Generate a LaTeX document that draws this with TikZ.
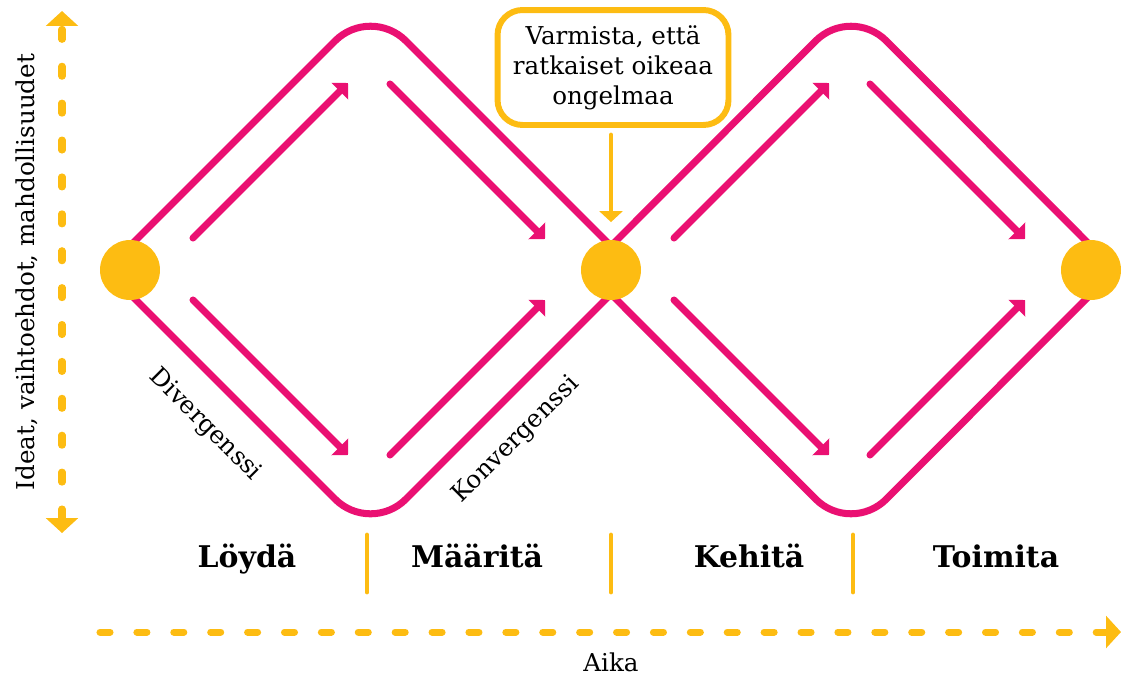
\documentclass[tikz,border=0pt]{standalone}
\usepackage{fontspec}
\setmainfont{DejaVu Serif}
\usetikzlibrary{calc, arrows.meta}
\definecolor{dpink}{RGB}{234,16,114}
\definecolor{dyellow}{RGB}{253,188,18}
\tikzset{
  flow/.style={draw=dpink, line width=4pt, line cap=round},
  flowarrow/.style={flow, arrows={-Triangle[length=6.6pt, width=13.2pt]}},
  outline/.style={flow, line join=round, rounded corners=1cm},
  dot/.style={circle, fill=dyellow, minimum size=1.2cm, inner sep=0pt},
  axis/.style={draw=dyellow, line width=4pt, line cap=round,
    dash pattern=on 5.7pt off 15.3pt},
  axistip/.tip={Triangle[length=8.5pt, width=18pt]},
  notebox/.style={draw=dyellow, line width=3.4pt, rounded corners=0.5cm,
    minimum width=4.62cm, minimum height=2.3cm, align=center,
    font=\fontsize{14}{17}\selectfont},
  phase/.style={anchor=base, inner sep=0pt, font=\fontsize{17}{20}\bfseries\selectfont},
  label text/.style={inner sep=0pt, font=\fontsize{14}{17}\selectfont}
}
\begin{document}
\begin{tikzpicture}[x=0.02cm, y=-0.02cm]
        \useasboundingbox (0,0) rectangle (1125,674);
        \coordinate (p1) at (130, 270);
        \coordinate (p2) at (611, 270);
        \coordinate (p3) at (1091, 270);
        % the two diamonds
        \foreach \a/\b in {p1/p2, p2/p3} {
            \draw [outline] ($(\a)+(0,-24)$) -- ($(\a)!0.5!(\b)+(0,-264.5)$) -- ($(\b)+(0,-24)$);
            \draw [outline] ($(\a)+(0,24)$) -- ($(\a)!0.5!(\b)+(0,264.5)$) -- ($(\b)+(0,24)$);
            \draw [flowarrow] ($(\a)+(63,-32)$) -- ($(\a)+(218,-187)$);
            \draw [flowarrow] ($(\b)+(-221,-186)$) -- ($(\b)+(-66,-31)$);
            \draw [flowarrow] ($(\a)+(63,30)$) -- ($(\a)+(218,185)$);
            \draw [flowarrow] ($(\b)+(-221,185)$) -- ($(\b)+(-66,30)$);
        }
        \node [dot] (c1) at (p1) {};
        \node [dot] (c2) at (p2) {};
        \node [dot] (c3) at (p3) {};
        \node [notebox] (note) at (613, 67.5) {Varmista, että\\ratkaiset oikeaa\\ongelmaa};
        \draw [draw=dyellow, line width=2.8pt, line cap=round,
            arrows={-Triangle[length=6.2pt, width=13pt]},
            shorten <=4pt, shorten >=10pt] (note.south -| c2) -- (c2);
        \node [label text, rotate=-45] (div) at (205, 425) {Divergenssi};
        \node [label text, rotate=45] (conv) at (516, 440) {Konvergenssi};
        % phases
        \foreach \x in {367, 611, 853}
            \draw [draw=dyellow, line width=2.8pt, line cap=round] (\x, 535) -- (\x, 592);
        \node [phase] (find) at (247, 567) {Löydä};
        \node [phase] (define) at (477, 567) {Määritä};
        \node [phase] (develop) at (749, 567) {Kehitä};
        \node [phase] (deliver) at (996, 567) {Toimita};
        % axes
        \coordinate (ytop) at (62, 11);
        \coordinate (ybot) at (62, 533);
        \coordinate (xstart) at (100, 632);
        \coordinate (xend) at (1121, 632);
        \draw [axis, arrows={axistip-axistip}] (ybot) -- (ytop);
        \draw [axis, arrows={-axistip}] (xstart) -- (xend);
        \node [label text, rotate=90] (ylab) at (27, 272) {Ideat, vaihtoehdot, mahdollisuudet};
        \node [label text] (xlab) at (611, 662) {Aika};
    \end{tikzpicture}
\end{document}
